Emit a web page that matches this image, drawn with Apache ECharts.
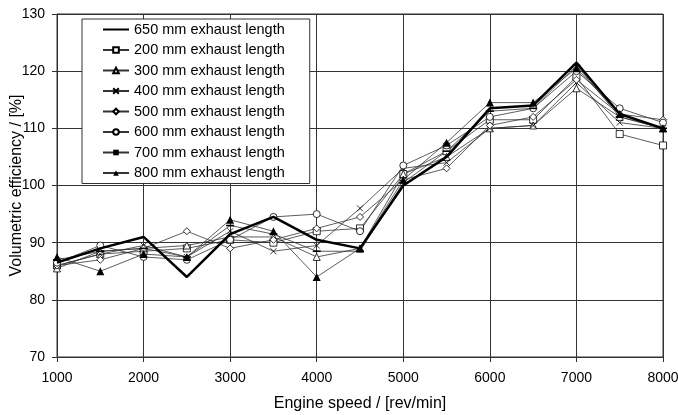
<!DOCTYPE html>
<html><head><meta charset="utf-8">
<script src="https://cdn.jsdelivr.net/npm/echarts@6/dist/echarts.min.js"></script>
<style>html,body{margin:0;padding:0;background:#fff}#c{width:678px;height:415px}</style>
</head><body><div id="c"></div>
<script>
var speeds = [1000,1500,2000,2500,3000,3500,4000,4500,5000,5500,6000,6500,7000,7500,8000];
var yTicks = [70,80,90,100,110,120,130];
var xTicks = [1000,2000,3000,4000,5000,6000,7000,8000];
var names = ['650 mm exhaust length','200 mm exhaust length','300 mm exhaust length','400 mm exhaust length','500 mm exhaust length','600 mm exhaust length','700 mm exhaust length','800 mm exhaust length'];
var v650 = [86.5,89,91,84,91.5,94.5,90.5,89,100,105,113.5,114,121.5,112.5,110];
var v200 = [86,88,88.5,89,90.5,90,92,92.5,102,106,111.5,111.5,119,109,107];
var v300 = [85.5,88.5,89,89.5,91,91,87.5,89,102,105,110,110.5,117,112,110];
var v400 = [86,88,89.5,87.5,92,88.5,89.5,96,103,104,110,110.5,118,111,110];
var v500 = [86,87,89,92,89,90.5,92.5,94.5,101,103,110.5,112,118.5,112.5,111.5];
var v600 = [86.5,89.5,87.5,87,90.5,94.5,95,92,103.5,107,112,113.5,120,113.5,111];
var v700 = [87,88.5,89,87.5,93,91.5,88.5,88.5,100.5,106,113,113.5,121,112,110];
var v800 = [87.5,85,88,87.5,94,92,84,89,101,107.5,114.5,114.5,120.5,112.5,110];
var allVals = [v650,v200,v300,v400,v500,v600,v700,v800];
var symbols = ['circle','rect','triangle','path://M0,0L10,10M10,0L0,10','diamond','circle','path://M0,0L10,0L10,2L0,2Z','triangle'];
var symSizes = [1,7,7,6,7,7,8,8];
var fills = ['rgba(0,0,0,0)','#fff','#fff','none','#fff','#fff','#000','#000'];

function pairs(v){return speeds.map(function(s,i){return [s,v[i]];});}
var series = allVals.map(function(v,k){
  return {
    name: names[k], type:'line', data: pairs(v),
    symbol: symbols[k], symbolSize: symSizes[k], showSymbol: k!==0,
    symbolKeepAspect: true,
    z: k===0 ? 10 : 3,
    lineStyle:{color: k===0 ? '#000' : '#333', width: k===0 ? 2.5 : 0.8},
    itemStyle:{color: fills[k], borderColor: k===0 ? 'rgba(0,0,0,0)' : '#000', borderWidth: (k===0||k===6||k===7)?0:0.8},
    emphasis:{disabled:true}, animation:false
  };
});
var chart = echarts.init(document.getElementById('c'));
chart.setOption({
  animation:false,
  textStyle:{fontFamily:'Liberation Sans, Arial, sans-serif'},
  grid:{left:57,right:15,top:14,bottom:58,show:true,borderColor:'#333',borderWidth:1,outerBoundsMode:'none',containLabel:false},
  legend:{
    orient:'vertical', left:82, top:19,
    backgroundColor:'#fff', borderColor:'#333', borderWidth:1,
    padding:[3,25,3,20], itemGap:5.5, itemWidth:26, itemHeight:7,
    textStyle:{fontSize:14.5,color:'#000',fontFamily:'Liberation Sans, Arial, sans-serif'},
    data: names
  },
  xAxis:{
    type:'value', min:xTicks[0], max:xTicks[xTicks.length-1], interval:1000,
    name:'Engine speed / [rev/min]', nameLocation:'middle', nameGap:39,
    nameTextStyle:{fontSize:16,color:'#000'},
    axisLine:{lineStyle:{color:'#333'}},
    axisTick:{show:true,length:5,lineStyle:{color:'#333'}},
    axisLabel:{fontSize:14,color:'#000',margin:14,formatter:function(v){return String(v);}},
    splitLine:{show:true,lineStyle:{color:'#333',width:1}}
  },
  yAxis:{
    type:'value', min:yTicks[0], max:yTicks[yTicks.length-1], interval:10,
    name:'Volumetric efficiency / [%]', nameLocation:'middle', nameGap:32, nameMoveOverlap:false,
    nameTextStyle:{fontSize:16,color:'#000'},
    axisLine:{show:true,lineStyle:{color:'#333'}},
    axisTick:{show:true,length:5,lineStyle:{color:'#333'}},
    axisLabel:{fontSize:14,color:'#000',margin:12,formatter:function(v){return String(v);}},
    splitLine:{show:true,lineStyle:{color:'#333',width:1}}
  },
  series: series
});
</script></body></html>
